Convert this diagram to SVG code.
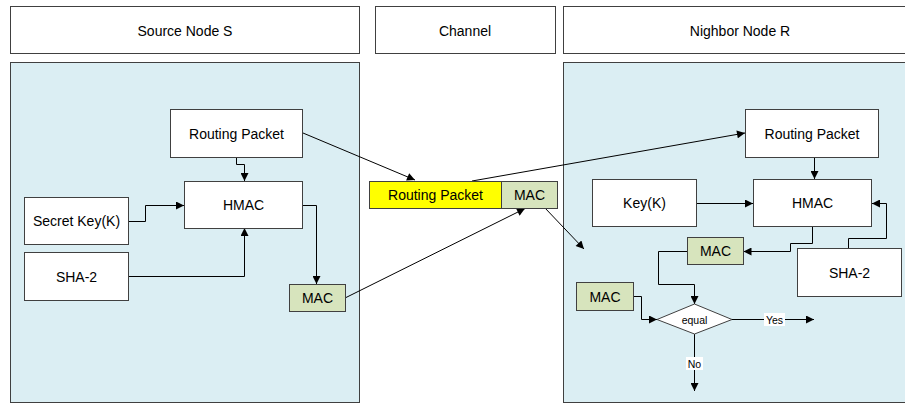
<svg xmlns="http://www.w3.org/2000/svg" width="905" height="403" viewBox="0 0 905 403">
<defs>
<style>
.hdr{fill:#ffffff;stroke:#404040;stroke-width:1}
.panel{fill:#dbeef3;stroke:#404040;stroke-width:1}
.box{fill:#ffffff;stroke:#404040;stroke-width:1}
.mac{fill:#d7e4bd;stroke:#404040;stroke-width:1}
.yel{fill:#ffff00;stroke:#404040;stroke-width:1}
text{font-family:"Liberation Sans",Arial,sans-serif;fill:#000;text-anchor:middle;dominant-baseline:central}
.t14{font-size:14px}
.t13{font-size:14px}
.t8{font-size:10.5px}
.ln{fill:none;stroke:#000;stroke-width:1}
</style>
<marker id="ah" viewBox="0 0 10 10" refX="10" refY="5" markerWidth="9" markerHeight="8" markerUnits="userSpaceOnUse" orient="auto">
<path d="M0,0 L10,5 L0,10 z" fill="#000"/>
</marker>
</defs>
<rect width="905" height="403" fill="#ffffff"/>
<g id="header-source"><rect class="hdr" x="10.5" y="6.5" width="349" height="47"/><text class="t14" x="185" y="30.5">Source Node S</text></g>
<g id="header-channel"><rect class="hdr" x="375.5" y="6.5" width="180" height="47"/><text class="t14" x="465" y="30.5">Channel</text></g>
<g id="header-neighbor"><rect class="hdr" x="563.5" y="6.5" width="345" height="47"/><text class="t14" x="740" y="30.5">Nighbor Node R</text></g>
<g id="panel-source"><rect class="panel" x="10.5" y="62.5" width="349" height="340"/></g>
<g id="panel-neighbor"><rect class="panel" x="563.5" y="62.5" width="345" height="340"/></g>

<g id="connectors">
<path class="ln" d="M236.5,157 V164.5 H244.5 V181" marker-end="url(#ah)"/>
<path class="ln" d="M128,221.5 H145.5 V205.5 H184" marker-end="url(#ah)"/>
<path class="ln" d="M128,276.5 H244.5 V228" marker-end="url(#ah)"/>
<path class="ln" d="M303,205.5 H316.5 V284" marker-end="url(#ah)"/>
<path class="ln" d="M303,133 L415,180" marker-end="url(#ah)"/>
<path class="ln" d="M345,298 L525,208.5" marker-end="url(#ah)"/>
<path class="ln" d="M472,181 L745,133" marker-end="url(#ah)"/>
<path class="ln" d="M545,208 L584,249" marker-end="url(#ah)"/>
<path class="ln" d="M814.5,157 V179" marker-end="url(#ah)"/>
<path class="ln" d="M697,203.5 H753" marker-end="url(#ah)"/>
<path class="ln" d="M848.5,248 V238.5 H886.5 V203.5 H872" marker-end="url(#ah)"/>
<path class="ln" d="M812.5,227 V243.5 H790.5 V251.5 H743.5" marker-end="url(#ah)"/>
<path class="ln" d="M687,251.5 H658.5 V284.5 H694.5 V304" marker-end="url(#ah)"/>
<path class="ln" d="M633,296.5 H641.5 V319.5 H657" marker-end="url(#ah)"/>
<path class="ln" d="M732,319.5 H814" marker-end="url(#ah)"/>
<path class="ln" d="M694.5,334 V391" marker-end="url(#ah)"/>
<rect x="764" y="313" width="21" height="13" fill="#ffffff"/>
<text class="t8" x="774.5" y="319.5">Yes</text>
<rect x="686" y="357" width="17" height="13" fill="#ffffff"/>
<text class="t8" x="694.5" y="363.5">No</text>
</g>

<g id="s-routing"><rect class="box" x="170.5" y="109.5" width="132" height="48"/><text class="t13" x="236.5" y="133.5">Routing Packet</text></g>
<g id="s-hmac"><rect class="box" x="184.5" y="181.5" width="118" height="47"/><text class="t13" x="243.5" y="205">HMAC</text></g>
<g id="s-key"><rect class="box" x="24.5" y="197.5" width="104" height="47"/><text class="t13" x="76.5" y="221">Secret Key(K)</text></g>
<g id="s-sha"><rect class="box" x="24.5" y="252.5" width="104" height="48"/><text class="t13" x="76.5" y="276.5">SHA-2</text></g>
<g id="s-mac"><rect class="mac" x="289.5" y="284.5" width="56" height="27"/><text class="t13" x="317.5" y="298">MAC</text></g>

<g id="c-routing"><rect class="yel" x="369.5" y="181.5" width="132" height="27"/><text class="t13" x="435.5" y="195">Routing Packet</text></g>
<g id="c-mac"><rect class="mac" x="501.5" y="181.5" width="56" height="27"/><text class="t13" x="529.5" y="195">MAC</text></g>

<g id="r-routing"><rect class="box" x="745.5" y="109.5" width="133" height="48"/><text class="t13" x="812" y="133.5">Routing Packet</text></g>
<g id="r-hmac"><rect class="box" x="753.5" y="179.5" width="118" height="47"/><text class="t13" x="812.5" y="203">HMAC</text></g>
<g id="r-key"><rect class="box" x="592.5" y="179.5" width="104" height="47"/><text class="t13" x="644.5" y="203">Key(K)</text></g>
<g id="r-sha"><rect class="box" x="797.5" y="248.5" width="104" height="48"/><text class="t13" x="849.5" y="272.5">SHA-2</text></g>
<g id="r-mac1"><rect class="mac" x="687.5" y="237.5" width="56" height="27"/><text class="t13" x="715.5" y="251">MAC</text></g>
<g id="r-mac2"><rect class="mac" x="576.5" y="282.5" width="57" height="28"/><text class="t13" x="605" y="296.5">MAC</text></g>
<g id="r-equal"><polygon class="box" points="694.5,304 732,319.5 694.5,334 657,319.5"/><text class="t8" x="694.5" y="319.5">equal</text></g>
</svg>
